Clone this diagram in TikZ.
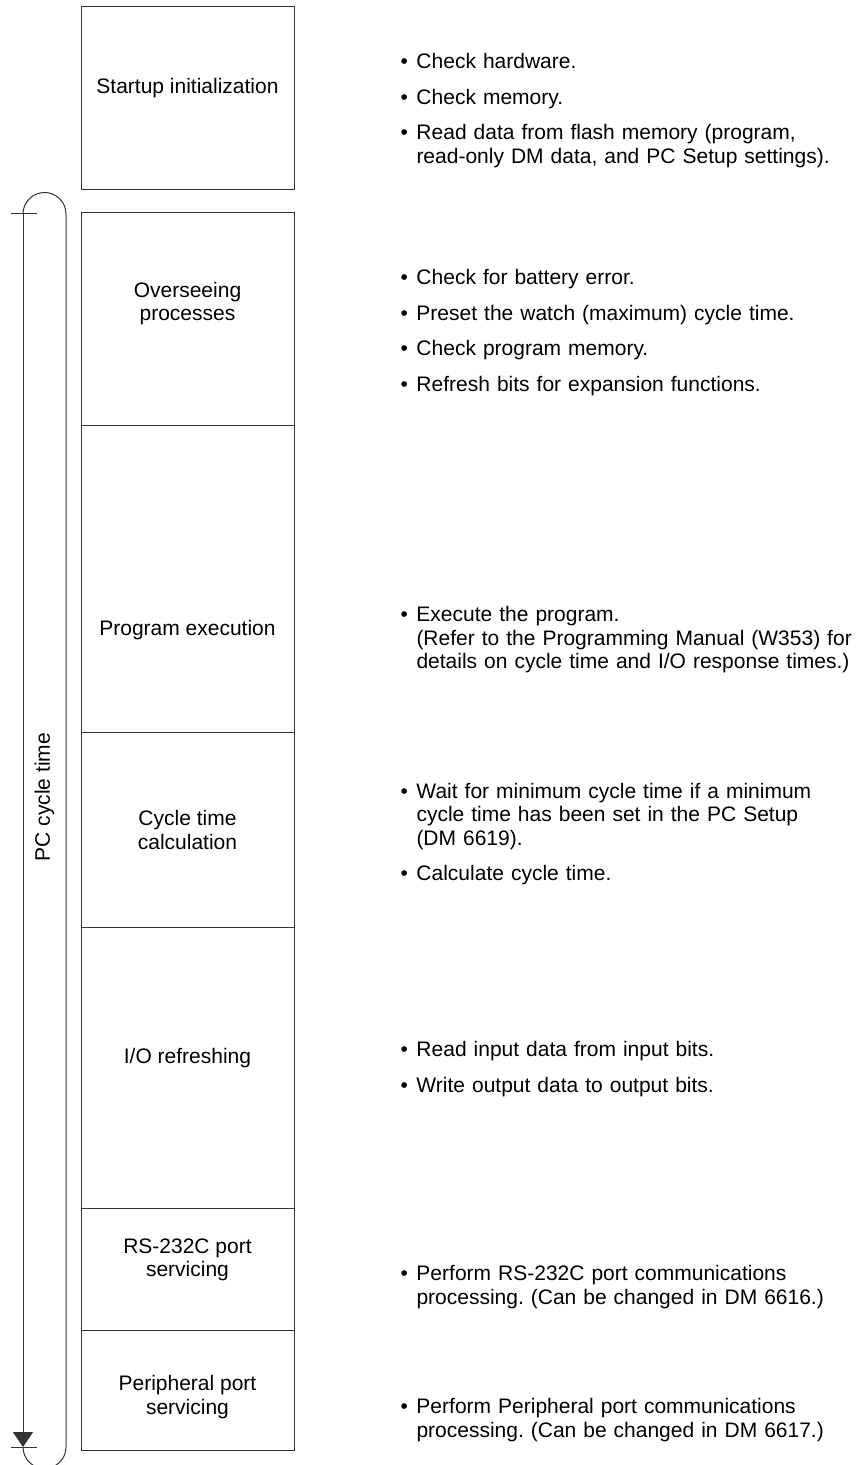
\documentclass[tikz,border=0pt]{standalone}
\usepackage{fontspec}
\setmainfont{Liberation Sans}
\usetikzlibrary{arrows.meta, positioning}
\frenchspacing

\newcommand{\bpoint}[1]{\par\hangindent=8pt\noindent\hbox to 8pt{\textbullet\hss}#1\par}

\begin{document}
\begin{tikzpicture}[x=0.5pt, y=-0.5pt, line width=0.5pt, draw=black!80,
  every node/.style={font=\fontsize{10.5pt}{11.75pt}\selectfont},
  stagebox/.style={draw=black!80, rectangle, minimum width=106.5pt, outer sep=0pt, inner sep=0pt},
  stagelbl/.style={align=center, inner sep=0pt},
  desc/.style={anchor=west, text width=236pt, align=left, inner sep=0pt,
    execute at begin node={\setlength{\parskip}{6pt}}}]

  \useasboundingbox (0,0) rectangle (859,1465);

  % Boxes
  \node[stagebox, minimum height=91.5pt, anchor=north west] (startup) at (81,7) {};
  \node[stagebox, minimum height=106pt, below=11.5pt of startup] (oversee) {};
  \node[stagebox, minimum height=153.5pt, below=0pt of oversee] (progexec) {};
  \node[stagebox, minimum height=97.5pt, below=0pt of progexec] (cyccalc) {};
  \node[stagebox, minimum height=140.5pt, below=0pt of cyccalc] (iorefresh) {};
  \node[stagebox, minimum height=61pt, below=0pt of iorefresh] (rsport) {};
  \node[stagebox, minimum height=60pt, below=0pt of rsport] (periport) {};

  % Box labels
  \node[stagelbl] (startuplbl) at (187.5,88) {Startup initialization};
  \node[stagelbl] (overseelbl) at (187.5,303.5) {Overseeing\\processes};
  \node[stagelbl] (progexeclbl) at (187.5,630) {Program execution};
  \node[stagelbl] (cyccalclbl) at (187.5,830) {Cycle time\\calculation};
  \node[stagelbl] (iorefreshlbl) at (187.5,1058) {I/O refreshing};
  \node[stagelbl] (rsportlbl) at (187.5,1260) {RS-232C port\\servicing};
  \node[stagelbl] (periportlbl) at (187.5,1397) {Peripheral port\\servicing};

  % Descriptions
  \node[desc] (startupdesc) at (400,100.5) {%
    \bpoint{Check hardware.}
    \bpoint{Check memory.}
    \bpoint{Read data from flash memory (program,\newline read-only DM data, and PC Setup settings).}};
  \node[desc] (overseedesc) at (400,322.5) {%
    \bpoint{Check for battery error.}
    \bpoint{Preset the watch (maximum) cycle time.}
    \bpoint{Check program memory.}
    \bpoint{Refresh bits for expansion functions.}};
  \node[desc] (progexecdesc) at (400,629.5) {%
    \bpoint{Execute the program.\newline (Refer to the Programming Manual (W353) for\newline details on cycle time and I/O response times.)}};
  \node[desc] (cyccalcdesc) at (400,824) {%
    \bpoint{Wait for minimum cycle time if a minimum\newline cycle time has been set in the PC Setup\newline (DM 6619).}
    \bpoint{Calculate cycle time.}};
  \node[desc] (iorefreshdesc) at (400,1059) {%
    \bpoint{Read input data from input bits.}
    \bpoint{Write output data to output bits.}};
  \node[desc] (rsportdesc) at (400,1277) {%
    \bpoint{Perform RS-232C port communications\newline processing. (Can be changed in DM 6616.)}};
  \node[desc] (periportdesc) at (400,1410) {%
    \bpoint{Perform Peripheral port communications\newline processing. (Can be changed in DM 6617.)}};

  % Cycle loop
  \coordinate (looptop) at (23,214);
  \coordinate (loopend) at (23,1447);
  \draw (looptop) arc[start angle=180, end angle=360, radius=21.5] coordinate (looptopr)
    -- (looptopr |- loopend) arc[start angle=0, end angle=180, radius=21.5];
  \draw[-{Triangle[width=10pt, length=7.5pt]}, fill=black] (looptop) -- (loopend);
  \draw ([xshift=-6pt]looptop) -- ([xshift=7pt]looptop);
  \draw ([xshift=-6pt]loopend) -- ([xshift=7pt]loopend);
  \node[rotate=90] (cyclelbl) at (44.5,797) {PC cycle time};

\end{tikzpicture}
\end{document}
